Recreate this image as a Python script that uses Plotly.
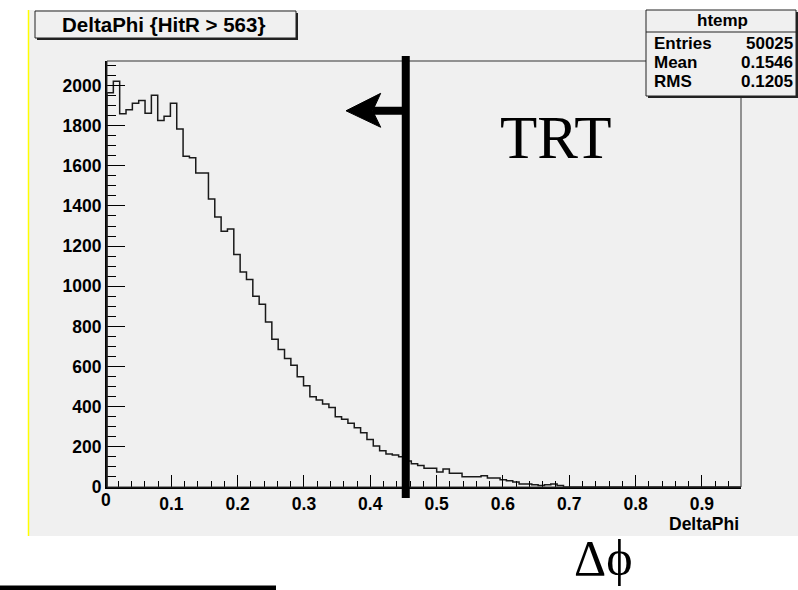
import plotly.graph_objects as go

# ---------------- data ----------------
NBINS = 100
XMIN = 0.003
XMAX = 0.959
YMAX = 2122

counts = [1964, 2021, 1859, 1879, 1912, 1925, 1862, 1952, 1826, 1847,
          1912, 1783, 1647, 1640, 1564, 1564, 1434, 1345, 1274, 1285,
          1158, 1071, 1033, 950, 910, 822, 736, 685, 640, 607,
          549, 504, 449, 433, 413, 396, 350, 338, 317, 295,
          270, 237, 204, 181, 164, 160, 151, 130, 116, 107,
          94, 94, 75, 90, 68, 68, 51, 51, 51, 56,
          45, 45, 36, 31, 25, 15, 15, 11, 8, 11,
          15, 7, 0, 0, 0, 0, 0, 0, 0, 0,
          0, 0, 0, 0, 0, 0, 0, 0, 0, 0,
          0, 0, 0, 0, 0, 0, 0, 0, 0, 0]

xtick_vals = [0.1, 0.2, 0.3, 0.4, 0.5, 0.6, 0.7, 0.8, 0.9]
xtick_text = ["0.1", "0.2", "0.3", "0.4", "0.5", "0.6", "0.7", "0.8", "0.9"]
ytick_vals = [0, 200, 400, 600, 800, 1000, 1200, 1400, 1600, 1800, 2000]

title_text = "DeltaPhi {HitR > 563}"
x_title = "DeltaPhi"
stats_name = "htemp"
stats_labels = ["Entries", "Mean", "RMS"]
stats_values = ["50025", "0.1546", "0.1205"]
cut_value = 0.4535
cut_label = "TRT"
big_label = "\u0394\u03d5"

# ---------------- geometry ----------------
W, H = 798, 590
L, R, T, B = 107, 741, 61, 487
PW, PH = R - L, B - T


def px(x):
    return (x - L) / PW


def py(y):
    return (B - y) / PH


width = (XMAX - XMIN) / NBINS
edges = [XMIN + i * width for i in range(NBINS + 1)]
xs = [edges[0]] + edges[:NBINS] + [edges[NBINS]]
ys = [0] + counts + [0]

fig = go.Figure()
fig.add_trace(go.Scatter(x=xs, y=ys, mode="lines", line=dict(color="#1a1a1a", width=1.5, shape="hv"),
                         hoverinfo="skip", showlegend=False))

BOLD = dict(family="Liberation Sans", color="black", weight="bold")
GREY = "#f0f0f0"

shapes = []
# canvas
shapes.append(dict(type="rect", xref="paper", yref="paper", x0=px(28), x1=px(800), y0=py(536), y1=py(10),
                   fillcolor=GREY, line=dict(width=0), layer="below"))
shapes.append(dict(type="line", xref="paper", yref="paper", x0=px(28.5), x1=px(28.5), y0=py(536), y1=py(10),
                   line=dict(color="#ffff00", width=1.5), layer="below"))
# frame
shapes.append(dict(type="rect", xref="paper", yref="paper", x0=0, x1=1, y0=0, y1=1,
                   line=dict(color="#333333", width=1), layer="above"))
# title box with shadow
shapes.append(dict(type="rect", xref="paper", yref="paper", x0=px(37), x1=px(298), y0=py(40), y1=py(13),
                   fillcolor="#222222", line=dict(width=0)))
shapes.append(dict(type="rect", xref="paper", yref="paper", x0=px(35), x1=px(296), y0=py(38), y1=py(11),
                   fillcolor=GREY, line=dict(color="#222222", width=1)))
# stats box with shadow
shapes.append(dict(type="rect", xref="paper", yref="paper", x0=px(648), x1=px(799), y0=py(98), y1=py(12),
                   fillcolor="#222222", line=dict(width=0)))
shapes.append(dict(type="rect", xref="paper", yref="paper", x0=px(646), x1=px(796), y0=py(96), y1=py(10),
                   fillcolor=GREY, line=dict(color="#222222", width=1)))
shapes.append(dict(type="line", xref="paper", yref="paper", x0=px(646), x1=px(796), y0=py(32), y1=py(32),
                   line=dict(color="#222222", width=1)))
# cut line and arrow
shapes.append(dict(type="line", xref="x", yref="paper", x0=cut_value, x1=cut_value, y0=py(498), y1=py(56),
                   line=dict(color="black", width=8), layer="above"))
shapes.append(dict(type="line", xref="x", yref="y", x0=0.4036, x1=cut_value, y0=1874, y1=1874,
                   line=dict(color="black", width=8), layer="above"))
shapes.append(dict(type="path", xref="x", yref="y",
                   path="M 0.3634,1874 L 0.4157,1961 L 0.4036,1874 L 0.4157,1792 Z",
                   fillcolor="black", line=dict(color="black", width=1), layer="above"))
# bottom-left black bar
shapes.append(dict(type="rect", xref="paper", yref="paper", x0=px(0), x1=px(276), y0=py(590), y1=py(585.5),
                   fillcolor="black", line=dict(width=0)))

ann = []
ann.append(dict(text=title_text, xref="paper", yref="paper", x=px(163), y=py(25), xanchor="center",
                yanchor="middle", showarrow=False, font=dict(size=20.5, **BOLD)))
ann.append(dict(text=stats_name, xref="paper", yref="paper", x=px(722), y=py(21), xanchor="center",
                yanchor="middle", showarrow=False, font=dict(size=17, **BOLD)))
for lab, val, yy in zip(stats_labels, stats_values, [43.5, 63, 81]):
    ann.append(dict(text=lab, xref="paper", yref="paper", x=px(652), y=py(yy), xanchor="left",
                    yanchor="middle", showarrow=False, font=dict(size=17, **BOLD)))
    ann.append(dict(text=val, xref="paper", yref="paper", x=px(795), y=py(yy), xanchor="right",
                    yanchor="middle", showarrow=False, font=dict(size=17, **BOLD)))
ann.append(dict(text="0", xref="paper", yref="paper", x=px(106), y=py(500), xanchor="center",
                yanchor="middle", showarrow=False, font=dict(size=17.5, **BOLD)))
ann.append(dict(text=x_title, xref="paper", yref="paper", x=px(741), y=py(524), xanchor="right",
                yanchor="middle", showarrow=False, font=dict(size=17.5, **BOLD)))
ann.append(dict(text=cut_label, xref="paper", yref="paper", x=px(555.5), y=py(137), xanchor="center",
                yanchor="middle", showarrow=False,
                font=dict(family="Liberation Serif", size=61, color="black")))
ann.append(dict(text=big_label, xref="paper", yref="paper", x=px(603), y=py(558), xanchor="center",
                yanchor="middle", showarrow=False,
                font=dict(family="Liberation Serif", size=50, color="black")))

fig.update_layout(
    width=W, height=H, autosize=False,
    margin=dict(l=L, r=W - R, t=T, b=H - B, pad=0),
    paper_bgcolor="white", plot_bgcolor=GREY,
    shapes=shapes, annotations=ann, showlegend=False,
    xaxis=dict(range=[XMIN, XMAX], tickvals=xtick_vals, ticktext=xtick_text, ticks="inside", ticklen=12,
               tickwidth=1, tickcolor="black", showline=True, linewidth=2, linecolor="black",
               showgrid=False, zeroline=False, tickfont=dict(size=17.5, **BOLD),
               minor=dict(ticks="inside", ticklen=6, tickwidth=1, tickcolor="black", tick0=0, dtick=0.02,
                          showgrid=False)),
    yaxis=dict(range=[0, YMAX], tickvals=ytick_vals, ticks="inside", ticklen=18, tickwidth=1,
               tickcolor="black", showline=True, linewidth=2, linecolor="black", showgrid=False,
               zeroline=False, tickfont=dict(size=17.5, **BOLD),
               minor=dict(ticks="inside", ticklen=9, tickwidth=1, tickcolor="black", tick0=0, dtick=50,
                          showgrid=False)),
)

fig.write_html("out.html")
